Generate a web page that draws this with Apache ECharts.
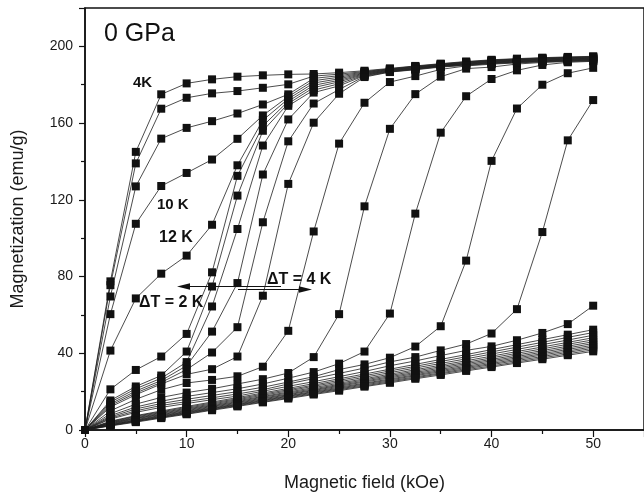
<!DOCTYPE html>
<html>
<head>
<meta charset="utf-8">
<title>Magnetization isotherms, 0 GPa</title>
<script src="https://cdn.jsdelivr.net/npm/echarts@6.0.0/dist/echarts.min.js"></script>
<style>
  html, body { margin: 0; padding: 0; background: #fff; }
  #chart { width: 644px; height: 499px; }
</style>
</head>
<body>
<div id="chart"></div>
<script>
// field steps (kOe)
var fields = [0, 2.5, 5, 7.5, 10, 12.5, 15, 17.5, 20, 22.5, 25, 27.5, 30, 32.5, 35, 37.5, 40, 42.5, 45, 47.5, 50];

// isotherms, lowest temperature first (emu/g)
var m01 = [0, 77.5, 145, 175, 180.7, 182.8, 184.2, 184.9, 185.4, 185.6, 186.3, 187.3, 188.5, 189.8, 191, 192.1, 193, 193.6, 194.1, 194.5, 194.8];
var m02 = [0, 75.5, 139, 167.5, 173.2, 175.5, 176.7, 178.4, 180.2, 184.5, 185.5, 186.9, 188.3, 189.6, 190.8, 191.9, 192.8, 193.4, 193.9, 194.3, 194.6];
var m03 = [0, 69.6, 127, 151.9, 157.5, 161, 165, 169.7, 175, 183.3, 184.7, 186.6, 188.1, 189.4, 190.6, 191.7, 192.6, 193.2, 193.7, 194.1, 194.4];
var m04 = [0, 60.4, 107.5, 127.2, 134, 141, 151.8, 164, 173.8, 182.1, 183.9, 186.3, 187.9, 189.2, 190.4, 191.5, 192.4, 193, 193.5, 193.9, 194.2];
var m05 = [0, 41.4, 68.6, 81.5, 90.9, 107, 138, 161.5, 172.6, 180.9, 183.1, 186, 187.7, 189, 190.2, 191.3, 192.2, 192.8, 193.3, 193.7, 194];
var m06 = [0, 21.2, 31.3, 38.3, 50.1, 82.2, 132.5, 158.5, 171.4, 179.7, 182.3, 185.7, 187.5, 188.8, 190, 191.1, 192, 192.6, 193.1, 193.5, 193.8];
var m07 = [0, 15.4, 22.7, 28.4, 40.9, 74.8, 122.2, 156, 170.2, 178.5, 181.5, 185.4, 187.3, 188.6, 189.9, 190.9, 191.8, 192.4, 192.9, 193.3, 193.6];
var m08 = [0, 14.5, 21.5, 27, 35.4, 64.4, 104.8, 148.3, 169, 177.2, 180.5, 185.1, 187.1, 188.4, 189.8, 190.7, 191.6, 192.2, 192.7, 193.1, 193.4];
var m09 = [0, 13.6, 20.3, 25.8, 33.5, 51.3, 76.6, 133.2, 161.9, 175.9, 179.4, 184.8, 186.9, 188.2, 189.6, 190.5, 191.4, 192, 192.5, 192.9, 193.2];
var m10 = [0, 12.8, 19.3, 24.8, 31.5, 40.4, 53.6, 108.3, 150.5, 170.2, 177.5, 184.4, 186.7, 188, 189.4, 190.3, 191.2, 191.8, 192.3, 192.7, 193];
var m11 = [0, 12, 18.4, 24, 29, 31.7, 38.3, 70, 128.3, 160.2, 175.3, 184, 186.6, 187.8, 189.2, 190.1, 191, 191.6, 192.1, 192.5, 192.8];
var m12 = [0, 10, 16, 21, 24.5, 26.1, 28, 33, 51.7, 103.5, 149.3, 170.6, 181.4, 184.5, 188, 189.8, 190.7, 191.4, 191.9, 192.3, 192.6];
var m13 = [0, 8.5, 13.5, 17, 19.5, 21.5, 24, 26.5, 29.7, 38, 60.4, 116.6, 157, 175.1, 184.2, 188.4, 189.2, 190.8, 191.6, 192.1, 192.4];
var m14 = [0, 7.5, 12, 15, 17.5, 19.5, 21.5, 24, 27, 30.2, 34.6, 40.9, 60.7, 112.8, 155, 174, 183, 187.5, 190.3, 191.7, 192.2];
var m15 = [0, 6.8, 11, 13.8, 16, 18, 20, 22.3, 25, 27.8, 31.5, 34.2, 37.7, 43.5, 54.1, 88.3, 140.3, 167.6, 180, 186, 188.8];
var m16 = [0, 6.2, 10, 12.8, 14.8, 16.8, 18.8, 21, 24, 26.8, 29.5, 32.3, 35.5, 38, 41.5, 44.8, 50.3, 63, 103.2, 151, 172];
var m17 = [0, 5.7, 9.2, 11.8, 13.8, 15.8, 17.7, 20.2, 22.8, 25.2, 27.8, 30.5, 33.5, 36, 38.8, 41.5, 43.6, 46.8, 50.6, 55.2, 64.8];
// nearly linear curves at the bottom
var b01 = [0, 4.6, 7.5, 9.9, 12.3, 14.6, 16.9, 19.3, 21.7, 24.2, 26.7, 29.2, 31.7, 34.2, 36.8, 39.3, 41.9, 44.5, 47.1, 49.7, 52.3];
var b02 = [0, 4.3, 7.2, 9.5, 11.8, 14.1, 16.3, 18.7, 21, 23.4, 25.9, 28.3, 30.8, 33.2, 35.7, 38.2, 40.7, 43.2, 45.7, 48.3, 50.8];
var b03 = [0, 4.1, 6.8, 9.1, 11.3, 13.6, 15.8, 18.1, 20.4, 22.8, 25.1, 27.5, 29.9, 32.3, 34.7, 37.1, 39.6, 42, 44.5, 46.9, 49.4];
var b04 = [0, 3.8, 6.4, 8.7, 10.9, 13.1, 15.3, 17.5, 19.8, 22.1, 24.4, 26.7, 29.1, 31.4, 33.8, 36.1, 38.5, 40.9, 43.3, 45.7, 48.1];
var b05 = [0, 3.6, 6.1, 8.3, 10.5, 12.7, 14.8, 17.1, 19.3, 21.5, 23.8, 26.1, 28.4, 30.7, 33, 35.3, 37.6, 40, 42.3, 44.7, 47];
var b06 = [0, 3.3, 5.8, 8, 10.1, 12.3, 14.4, 16.6, 18.8, 21, 23.3, 25.5, 27.8, 30, 32.3, 34.6, 36.8, 39.1, 41.4, 43.7, 46];
var b07 = [0, 3.1, 5.4, 7.6, 9.7, 11.9, 14, 16.2, 18.4, 20.6, 22.8, 25, 27.2, 29.4, 31.6, 33.9, 36.1, 38.3, 40.6, 42.8, 45.1];
var b08 = [0, 2.8, 5.1, 7.3, 9.4, 11.5, 13.6, 15.8, 17.9, 20.1, 22.3, 24.4, 26.6, 28.8, 31, 33.2, 35.4, 37.6, 39.8, 42, 44.2];
var b09 = [0, 2.7, 4.9, 7, 9.1, 11.2, 13.3, 15.4, 17.6, 19.7, 21.8, 24, 26.1, 28.3, 30.4, 32.6, 34.7, 36.9, 39.1, 41.2, 43.4];
var b10 = [0, 2.4, 4.6, 6.7, 8.8, 10.9, 13, 15.1, 17.2, 19.3, 21.4, 23.5, 25.6, 27.7, 29.8, 32, 34.1, 36.2, 38.3, 40.5, 42.6];
var b11 = [0, 2.3, 4.4, 6.5, 8.5, 10.6, 12.7, 14.7, 16.8, 18.9, 21, 23, 25.1, 27.2, 29.3, 31.4, 33.4, 35.5, 37.6, 39.7, 41.8];
var b12 = [0, 2.1, 4.1, 6.2, 8.2, 10.3, 12.3, 14.4, 16.4, 18.5, 20.5, 22.6, 24.6, 26.7, 28.7, 30.8, 32.8, 34.9, 36.9, 39, 41];

var curves = [m01, m02, m03, m04, m05, m06, m07, m08, m09, m10, m11, m12, m13, m14, m15, m16, m17,
              b01, b02, b03, b04, b05, b06, b07, b08, b09, b10, b11, b12];

var font = '"Liberation Sans", Arial, sans-serif';
var chart = echarts.init(document.getElementById('chart'));

var series = [];
var points = [];
curves.forEach(function (vals) {
  var d = fields.map(function (f, i) { return [f, vals[i]]; });
  series.push({
    type: 'line', data: d, symbol: 'none', silent: true, z: 2,
    lineStyle: { color: '#1e1e1e', width: 0.8 }
  });
  points = points.concat(d);
});
// markers on top of all lines
series.push({
  type: 'scatter', data: points, symbol: 'rect', symbolSize: 8, z: 3, silent: true,
  itemStyle: { color: '#111', opacity: 1 }
});

function arrowHead(tipX, y, dir) {
  // dir = -1 points left, 1 points right
  return {
    type: 'polygon', z: 10, silent: true,
    shape: { points: [[tipX, y], [tipX - dir * 13, y - 3.2], [tipX - dir * 13, y + 3.2]] },
    style: { fill: '#111' }
  };
}

var txt = function (x, y, s, size, weight) {
  return {
    type: 'text', x: x, y: y, z: 10, silent: true,
    style: { text: s, fill: '#111', font: (weight || 'normal') + ' ' + size + 'px ' + font, textVerticalAlign: 'middle' }
  };
};

var option = {
  animation: false,
  backgroundColor: '#fff',
  grid: { left: 85, top: 8, width: 561, height: 422, show: true, borderColor: '#111', borderWidth: 1.5, backgroundColor: 'transparent' },
  xAxis: {
    type: 'value', min: 0, max: 55, interval: 10,
    name: 'Magnetic field (kOe)', nameLocation: 'middle', nameGap: 44,
    nameTextStyle: { fontFamily: font, fontSize: 18, color: '#1a1a1a' },
    axisLine: { show: true, onZero: false, lineStyle: { color: '#111', width: 1.5 } },
    axisTick: { show: true, length: 7, lineStyle: { color: '#111', width: 1.2 } },
    minorTick: { show: true, splitNumber: 2, length: 4, lineStyle: { color: '#111', width: 1.2 } },
    axisLabel: { fontFamily: font, fontSize: 14, color: '#1a1a1a', margin: 7, showMaxLabel: false },
    splitLine: { show: false }
  },
  yAxis: {
    type: 'value', min: 0, max: 220, interval: 40,
    name: 'Magnetization (emu/g)', nameLocation: 'middle', nameGap: 58,
    nameTextStyle: { fontFamily: font, fontSize: 18, color: '#1a1a1a' },
    axisLine: { show: true, onZero: false, lineStyle: { color: '#111', width: 1.5 } },
    axisTick: { show: true, length: 6, lineStyle: { color: '#111', width: 1.2 } },
    minorTick: { show: true, splitNumber: 2, length: 4, lineStyle: { color: '#111', width: 1.2 } },
    axisLabel: { fontFamily: font, fontSize: 14, color: '#1a1a1a', margin: 12, showMaxLabel: false },
    splitLine: { show: false }
  },
  series: series,
  graphic: [
    txt(104, 34, '0 GPa', 25),
    txt(133, 83, '4K', 15, 'bold'),
    txt(157, 205, '10 K', 15, 'bold'),
    txt(159, 238, '12 K', 16, 'bold'),
    txt(139, 303, '\u0394T = 2 K', 16, 'bold'),
    txt(267, 280, '\u0394T = 4 K', 16, 'bold'),
    { type: 'line', z: 10, silent: true, shape: { x1: 188, y1: 286.5, x2: 281, y2: 286.5 }, style: { stroke: '#111', lineWidth: 1.2 } },
    arrowHead(177, 286.5, -1),
    { type: 'line', z: 10, silent: true, shape: { x1: 238, y1: 289.5, x2: 301, y2: 289.5 }, style: { stroke: '#111', lineWidth: 1.2 } },
    arrowHead(312, 289.5, 1)
  ]
};
chart.setOption(option);
</script>
</body>
</html>
